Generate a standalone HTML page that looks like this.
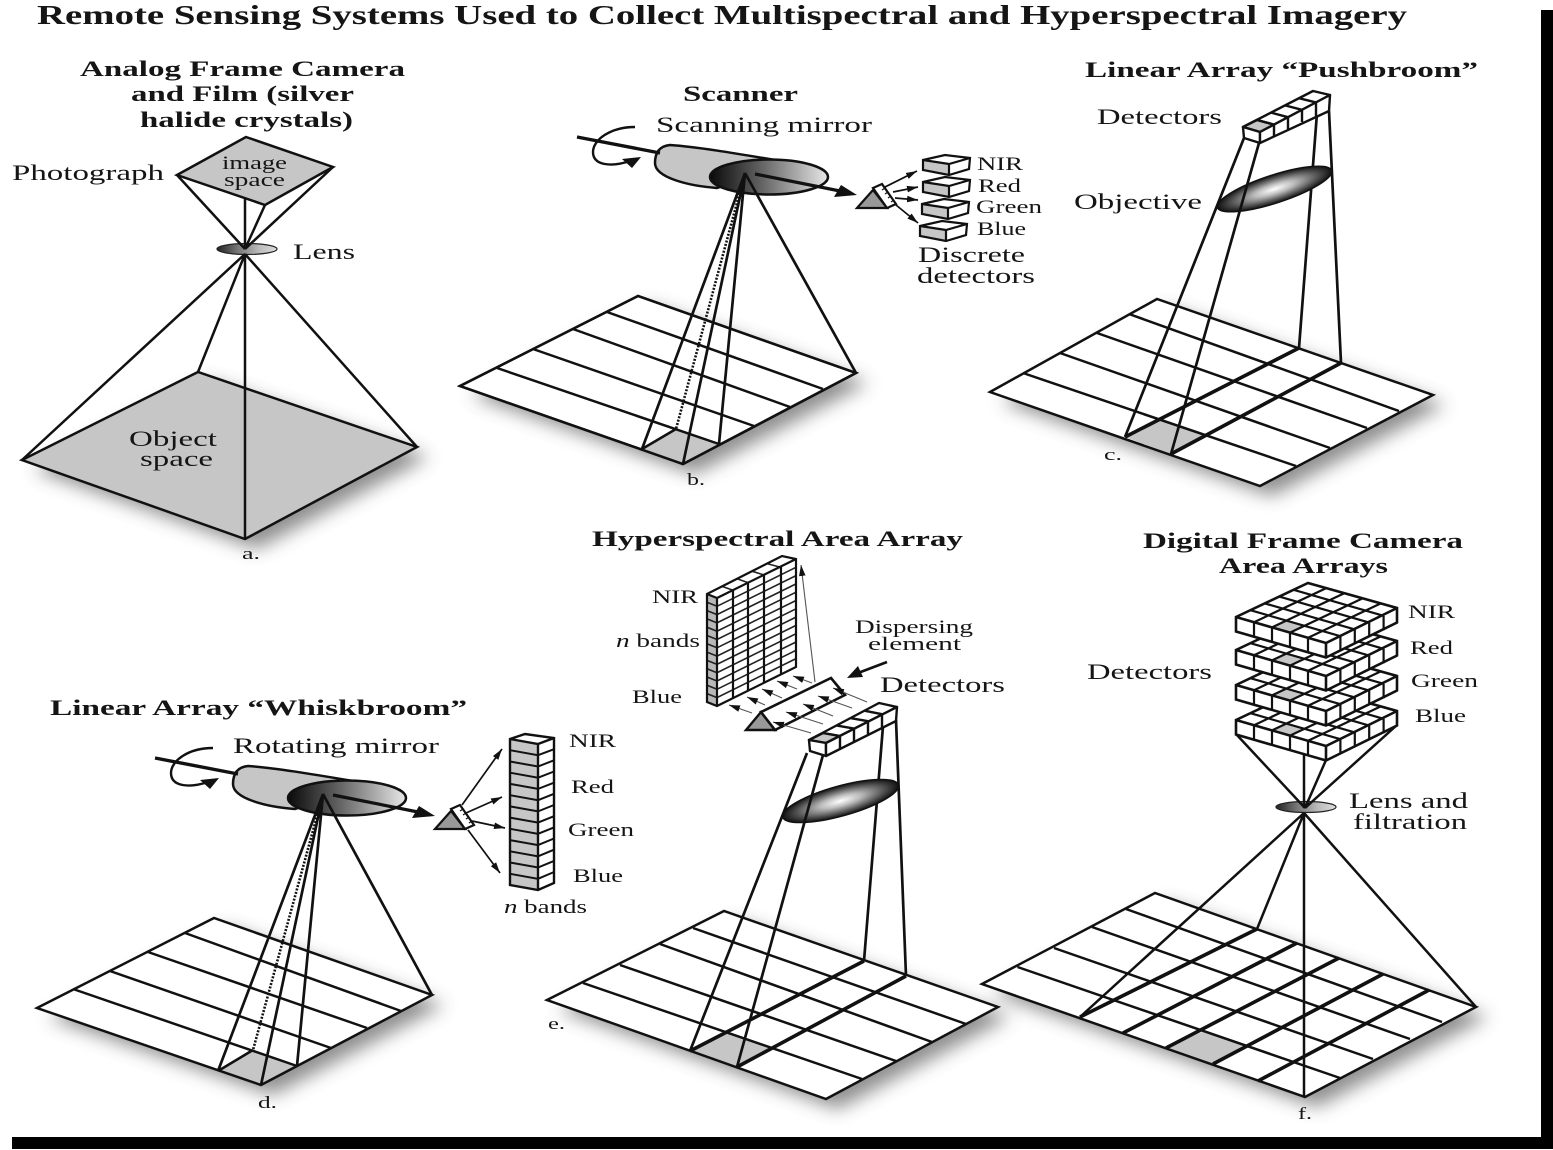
<!DOCTYPE html>
<html><head><meta charset="utf-8"><title>Remote Sensing Systems</title>
<style>
html,body{margin:0;padding:0;background:#fff}
svg{display:block}
text{font-family:"Liberation Serif",serif;fill:#151515}
.t{font-size:27px;font-weight:bold}
.h{font-size:22px;font-weight:bold}
.l{font-size:22px}
.s{font-size:19px}
.x{font-size:17px}
.i{font-style:italic}
</style></head><body>
<svg width="1553" height="1150" viewBox="0 0 1553 1150" xmlns="http://www.w3.org/2000/svg">
<defs>
<filter id="b" x="-20%" y="-30%" width="140%" height="160%"><feGaussianBlur stdDeviation="9"/></filter>
<linearGradient id="dk"><stop offset="0" stop-color="#0a0a0a"/><stop offset=".45" stop-color="#666"/><stop offset="1" stop-color="#e8e8e8"/></linearGradient>
<linearGradient id="ln"><stop offset="0" stop-color="#222"/><stop offset=".35" stop-color="#777"/><stop offset=".7" stop-color="#bbb"/><stop offset="1" stop-color="#ddd"/></linearGradient>
<radialGradient id="rd"><stop offset="0" stop-color="#fff"/><stop offset=".35" stop-color="#bbb"/><stop offset="1" stop-color="#111"/></radialGradient>
<marker id="ah" viewBox="0 0 10 6" refX="10" refY="3" markerWidth="11" markerHeight="7" markerUnits="userSpaceOnUse" orient="auto"><path d="M0 0L10 3L0 6Z" fill="#111"/></marker>
<g id="mirror">
<path d="M670 145C700 147 745 155 793 163L717 188C690 186 655 178 655 163C655 152 660 146 670 145Z" fill="#c6c6c6" stroke="#111" stroke-width="2.5"/>
<ellipse cx="769" cy="177" rx="59" ry="17.5" fill="url(#dk)" stroke="#111" stroke-width="2.5"/>
<line x1="577" y1="137" x2="660" y2="153" stroke="#111" stroke-width="3.4"/>
<path d="M635 127C610 127 593 140 593 152C593 166 612 167 630 161" fill="none" stroke="#111" stroke-width="2.4"/>
<polygon points="641,157 622,159 632,168" fill="#111"/>
<line x1="755" y1="174" x2="840" y2="191" stroke="#111" stroke-width="3.2"/>
<polygon points="857,195 841,185 834,197" fill="#111"/>
<polygon points="857,208 873,190 887,208" fill="#999" stroke="#111" stroke-width="2.2"/>
<polygon points="873,188 882,184 896,204 887,208" fill="#fff" stroke="#111" stroke-width="2.2"/>
<path d="M885 188L882 190M888 192L885 194M891 196L888 198M894 200L891 202" stroke="#111" stroke-width="1.2"/>
</g>
<g id="box">
<polygon points="923,160 945,155 970,158 948,163" fill="#fff"/>
<polygon points="923,160 949,164 949,175 923,170" fill="#c6c6c6"/>
<polygon points="949,164 970,158 969,169 949,175" fill="#fff"/>
<path d="M923 160L945 155L970 158L969 169L949 175L923 170ZM923 160L949 164L970 158M949 164V175" fill="none" stroke="#111" stroke-width="2.2"/>
</g>
<g id="layer">
<polygon points="1236,617 1308,583 1397,608 1326,643" fill="#fff"/>
<polygon points="1272,627.4 1290,632.6 1304.4,625.8 1286.4,620.6" fill="#c6c6c6"/>
<polygon points="1236,617 1326,643 1326,657.5 1236,631.5" fill="#fff"/>
<polygon points="1326,643 1397,608 1397,622.5 1326,657.5" fill="#fff"/>
<path d="M1254 622.2L1326 588.2M1272 627.4L1344 593.4M1290 632.6L1362 598.6M1308 637.8L1380 603.8M1250.4 610.2L1340.4 636.2M1264.8 603.4L1354.8 629.4M1279.2 596.6L1369.2 622.6M1293.6 589.8L1383.6 615.8" stroke="#111" stroke-width="2.2" fill="none"/>
<path d="M1254 622.2V636.7M1272 627.4V641.9M1290 632.6V647.1M1308 637.8V652.3M1340.4 636.2V650.7M1354.8 629.4V643.9M1369.2 622.6V637.1M1383.6 615.8V630.3" stroke="#111" stroke-width="2.2" fill="none"/>
<path d="M1236 617L1308 583L1397 608V622.5L1326 657.5L1236 631.5ZM1236 617L1326 643L1397 608M1326 643V657.5" fill="none" stroke="#111" stroke-width="2.6"/>
</g>
</defs>

<rect width="1553" height="1150" fill="#fff"/>
<rect x="1541" y="10" width="12" height="1139" fill="#000"/>
<rect x="12" y="1137" width="1541" height="12" fill="#000"/>

<text class="t" x="37" y="24" textLength="1370" lengthAdjust="spacingAndGlyphs">Remote Sensing Systems Used to Collect Multispectral and Hyperspectral Imagery</text>

<!-- a -->
<polygon points="22,460 198,372 417,447 245,539" transform="translate(12,10)" fill="#444" opacity=".6" filter="url(#b)"/>
<polygon points="22,460 198,372 417,447 245,539" fill="#c6c6c6" stroke="#111" stroke-width="2.5"/>
<polygon points="246,137 333,167 265,205 177,175" fill="#c6c6c6" stroke="#111" stroke-width="2.5"/>
<ellipse cx="247" cy="249" rx="30" ry="5.5" fill="url(#ln)" stroke="#222" stroke-width="1.2"/>
<path d="M177 175L245 249M333 167L245 249M265 205L245 249M245 199V249" stroke="#111" stroke-width="2.5" fill="none"/>
<path d="M245 254L22 460M245 254L198 372M245 254L417 447M245 254V539" stroke="#111" stroke-width="2.5" fill="none"/>
<text class="h" x="80" y="76" textLength="325" lengthAdjust="spacingAndGlyphs">Analog Frame Camera</text>
<text class="h" x="131" y="101" textLength="223" lengthAdjust="spacingAndGlyphs">and Film (silver</text>
<text class="h" x="140" y="127" textLength="213" lengthAdjust="spacingAndGlyphs">halide crystals)</text>
<text class="l" x="12" y="180" textLength="152" lengthAdjust="spacingAndGlyphs">Photograph</text>
<text class="s" x="222" y="169" textLength="65" lengthAdjust="spacingAndGlyphs">image</text>
<text class="s" x="224" y="186" textLength="61" lengthAdjust="spacingAndGlyphs">space</text>
<text class="l" x="293" y="259" textLength="62" lengthAdjust="spacingAndGlyphs">Lens</text>
<text class="l" x="129" y="446" textLength="88" lengthAdjust="spacingAndGlyphs">Object</text>
<text class="l" x="140" y="466" textLength="73" lengthAdjust="spacingAndGlyphs">space</text>
<text class="x" x="242" y="559" textLength="18" lengthAdjust="spacingAndGlyphs">a.</text>

<!-- b -->
<polygon points="460,386 638,296 856,373 683,464" transform="translate(12,10)" fill="#444" opacity=".6" filter="url(#b)"/>
<polygon points="460,386 638,296 856,373 683,464" fill="#fff" stroke="#111" stroke-width="2.5"/>
<polygon points="642,449 676,429 719,444 683,464" fill="#c6c6c6"/>
<path d="M607 312L823 389M573 329L790 407M533 349L754 426M497 368L719 444M642 449L676 429" stroke="#111" stroke-width="2.5"/>
<polygon points="460,386 638,296 856,373 683,464" fill="none" stroke="#111" stroke-width="2.5"/>
<use href="#mirror"/>
<path d="M745 173L642 449M745 173L683 464M745 173L719 444M745 173L856 373" stroke="#111" stroke-width="2.7" fill="none"/>
<line x1="745" y1="173" x2="676" y2="429" stroke="#111" stroke-width="2.6" stroke-dasharray="2 1.5"/>
<g stroke="#111" stroke-width="1.7">
<line x1="885" y1="187" x2="917" y2="171" marker-end="url(#ah)"/>
<line x1="893" y1="192" x2="918" y2="187" marker-end="url(#ah)"/>
<line x1="895" y1="198" x2="918" y2="200" marker-end="url(#ah)"/>
<line x1="896" y1="205" x2="918" y2="223" marker-end="url(#ah)"/>
</g>
<use href="#box"/>
<use href="#box" transform="translate(0,22)"/>
<use href="#box" transform="translate(-1,44)"/>
<use href="#box" transform="translate(-3,66)"/>
<text class="h" x="683" y="101" textLength="115" lengthAdjust="spacingAndGlyphs">Scanner</text>
<text class="l" x="656" y="132" textLength="216" lengthAdjust="spacingAndGlyphs">Scanning mirror</text>
<text class="s" x="977" y="170" textLength="46" lengthAdjust="spacingAndGlyphs">NIR</text>
<text class="s" x="978" y="192" textLength="43" lengthAdjust="spacingAndGlyphs">Red</text>
<text class="s" x="976" y="213" textLength="66" lengthAdjust="spacingAndGlyphs">Green</text>
<text class="s" x="977" y="235" textLength="49" lengthAdjust="spacingAndGlyphs">Blue</text>
<text class="l" x="918" y="262" textLength="107" lengthAdjust="spacingAndGlyphs">Discrete</text>
<text class="l" x="917" y="283" textLength="118" lengthAdjust="spacingAndGlyphs">detectors</text>
<text class="x" x="687" y="485" textLength="18" lengthAdjust="spacingAndGlyphs">b.</text>

<!-- c -->
<polygon points="990,392 1157,299 1433,395 1260,486" transform="translate(12,10)" fill="#444" opacity=".6" filter="url(#b)"/>
<polygon points="990,392 1157,299 1433,395 1260,486" fill="#fff"/>
<polygon points="1125,437 1160,419 1204,435 1171,454" fill="#c6c6c6"/>
<path d="M1129 314L1399 411M1097 333L1367 428M1060 353L1330 448M1023 373L1296 466" stroke="#111" stroke-width="2.5"/>
<polygon points="990,392 1157,299 1433,395 1260,486" fill="none" stroke="#111" stroke-width="2.5"/>
<path d="M1125 437L1299 348M1171 454L1341 363" stroke="#111" stroke-width="3.6"/>
<path d="M1317 113L1299 348M1329 111L1341 363" stroke="#111" stroke-width="2.7" fill="none"/>
<g transform="rotate(-18 1274.5 189)"><ellipse cx="1274.5" cy="189" rx="60" ry="14" fill="url(#rd)" stroke="#111" stroke-width="1.4"/></g>
<path d="M1244 138L1125 437M1259 143L1171 454" stroke="#111" stroke-width="2.7" fill="none"/>
<g stroke="#111" stroke-width="2.4" stroke-linejoin="round">
<polygon points="1243,127 1313,91 1330,95 1260,132" fill="#fff"/>
<polygon points="1243,127 1257,120 1274,124.6 1260,132" fill="#c6c6c6"/>
<polygon points="1243,127 1260,132 1260,143 1244,138" fill="#fff"/>
<polygon points="1260,132 1330,95 1329,111 1260,143" fill="#fff"/>
<path d="M1257 120L1274 124.6V136M1271 112.6L1288 117.2V129M1285 105.4L1302 109.8V122M1299 98.2L1316 102.4V117" fill="none"/>
</g>
<text class="h" x="1085" y="77" textLength="393" lengthAdjust="spacingAndGlyphs">Linear Array “Pushbroom”</text>
<text class="l" x="1097" y="124" textLength="125" lengthAdjust="spacingAndGlyphs">Detectors</text>
<text class="l" x="1074" y="209" textLength="128" lengthAdjust="spacingAndGlyphs">Objective</text>
<text class="x" x="1104" y="460" textLength="18" lengthAdjust="spacingAndGlyphs">c.</text>

<!-- d -->
<polygon points="37,1008 214,918 432,995 261,1085" transform="translate(12,10)" fill="#444" opacity=".6" filter="url(#b)"/>
<polygon points="37,1008 214,918 432,995 261,1085" fill="#fff"/>
<polygon points="218,1071 253,1050 297,1066 261,1085" fill="#c6c6c6"/>
<path d="M185 933L401 1011M148 952L367 1028M110 971L331 1048M73 989L297 1066M218 1071L253 1050" stroke="#111" stroke-width="2.5"/>
<polygon points="37,1008 214,918 432,995 261,1085" fill="none" stroke="#111" stroke-width="2.5"/>
<use href="#mirror" transform="translate(-422,621)"/>
<path d="M323 794L218 1071M323 794L261 1085M323 794L297 1066M323 794L432 995" stroke="#111" stroke-width="2.7" fill="none"/>
<line x1="323" y1="794" x2="253" y2="1050" stroke="#111" stroke-width="2.6" stroke-dasharray="2 1.5"/>
<g stroke="#111" stroke-width="1.7">
<line x1="462" y1="805" x2="502" y2="749" marker-end="url(#ah)"/>
<line x1="466" y1="813" x2="502" y2="797" marker-end="url(#ah)"/>
<line x1="472" y1="821" x2="505" y2="828" marker-end="url(#ah)"/>
<line x1="468" y1="830" x2="500" y2="873" marker-end="url(#ah)"/>
</g>
<polygon points="510,739 538,744 538,890 510,885" fill="#c6c6c6"/>
<polygon points="538,744 554,738 554,883 538,890" fill="#fff"/>
<polygon points="510,739 525,734 554,738 538,744" fill="#fff"/>
<path d="M510 750.2L538 755.2L554 749.2M510 761.5L538 766.5L554 760.3M510 772.7L538 777.7L554 771.5M510 783.9L538 788.9L554 782.7M510 795.2L538 800.2L554 793.8M510 806.4L538 811.4L554 805M510 817.6L538 822.6L554 816.2M510 828.8L538 833.8L554 827.4M510 840.1L538 845.1L554 838.5M510 851.3L538 856.3L554 849.7M510 862.5L538 867.5L554 860.9M510 873.8L538 878.8L554 872" stroke="#111" stroke-width="2" fill="none"/>
<path d="M510 739L525 734L554 738V883L538 890L510 885ZM510 739L538 744L554 738M538 744V890" stroke="#111" stroke-width="2.4" fill="none"/>
<text class="h" x="50" y="715" textLength="417" lengthAdjust="spacingAndGlyphs">Linear Array “Whiskbroom”</text>
<text class="l" x="233" y="753" textLength="206" lengthAdjust="spacingAndGlyphs">Rotating mirror</text>
<text class="s" x="569" y="747" textLength="47" lengthAdjust="spacingAndGlyphs">NIR</text>
<text class="s" x="571" y="793" textLength="43" lengthAdjust="spacingAndGlyphs">Red</text>
<text class="s" x="568" y="836" textLength="66" lengthAdjust="spacingAndGlyphs">Green</text>
<text class="s" x="573" y="882" textLength="50" lengthAdjust="spacingAndGlyphs">Blue</text>
<text class="s" x="504" y="913" textLength="83" lengthAdjust="spacingAndGlyphs"><tspan class="i">n</tspan> bands</text>
<text class="x" x="258" y="1108" textLength="19" lengthAdjust="spacingAndGlyphs">d.</text>

<!-- e -->
<polygon points="547,1000 724,911 998,1007 826,1099" transform="translate(12,10)" fill="#444" opacity=".6" filter="url(#b)"/>
<polygon points="547,1000 724,911 998,1007 826,1099" fill="#fff"/>
<polygon points="690,1051 727,1033 772,1048 737,1067" fill="#c6c6c6"/>
<path d="M693 928L966 1024M660 944L932 1042M620 965L896 1061M583 983L862 1079" stroke="#111" stroke-width="2.5"/>
<polygon points="547,1000 724,911 998,1007 826,1099" fill="none" stroke="#111" stroke-width="2.5"/>
<path d="M690 1051L864 961M737 1067L906 976" stroke="#111" stroke-width="3.6"/>
<path d="M883 726L864 961M896 720L906 976" stroke="#111" stroke-width="2.7" fill="none"/>
<g transform="rotate(-15.5 840.5 801)"><ellipse cx="840.5" cy="801" rx="60" ry="15" fill="url(#rd)" stroke="#111" stroke-width="1.4"/></g>
<path d="M807 753L690 1051M823 755L737 1067" stroke="#111" stroke-width="2.7" fill="none"/>
<g stroke="#111" stroke-width="2.4" stroke-linejoin="round">
<polygon points="809,740 879,703 897,707 826,743" fill="#fff"/>
<polygon points="809,740 823,733 840,736 826,743" fill="#c6c6c6"/>
<polygon points="809,740 826,743 826,756 810,751" fill="#fff"/>
<polygon points="826,743 897,707 896,721 826,756" fill="#fff"/>
<path d="M823 733L840 736V749M837 725.6L854 728.6V742M851 718.2L868 721.2V735M865 710.8L882 714.2V728" fill="none"/>
</g>
<!-- hyperspectral cube -->
<polygon points="707,594 717,598 717,706 707,702" fill="#b8b8b8"/>
<polygon points="717,598 796,559 796,667 717,706" fill="#fff"/>
<polygon points="707,594 782,556 796,559 717,598" fill="#fff"/>
<g fill="none" stroke="#222" stroke-width="1.6">
<path d="M707 602.3L717 606.3L796 567.3M707 610.6L717 614.6L796 575.6M707 618.9L717 622.9L796 583.9M707 627.2L717 631.2L796 592.2M707 635.5L717 639.5L796 600.5M707 643.8L717 647.8L796 608.8M707 652.1L717 656.1L796 617.1M707 660.4L717 664.4L796 625.4M707 668.7L717 672.7L796 633.7M707 677L717 681L796 642M707 685.3L717 689.3L796 650.3M707 693.6L717 697.6L796 658.6"/>
<path d="M722 586.4L733 590.2M737 578.8L748 582.6M752 571.2L764 575M767 563.6L781 567.4" />
</g>
<path d="M733 590V698M748 583V691M764 575V683M781 567V675" stroke="#111" stroke-width="2.2" fill="none"/>
<path d="M707 594L782 556L796 559V667L717 706L707 702ZM707 594L717 598L796 559M717 598V706" stroke="#111" stroke-width="2.2" fill="none"/>
<polygon points="746,730 761,712 775,730" fill="#999" stroke="#111" stroke-width="2.4"/>
<polygon points="761,712 831,678 845,695 775,730" fill="#fff" stroke="#111" stroke-width="2.6"/>
<g stroke="#555" stroke-width="1.1">
<line x1="811" y1="733" x2="773" y2="722" marker-end="url(#ah)"/>
<line x1="823" y1="724" x2="786" y2="712" marker-end="url(#ah)"/>
<line x1="833" y1="716" x2="803" y2="704" marker-end="url(#ah)"/>
<line x1="852" y1="708" x2="818" y2="696" marker-end="url(#ah)"/>
<line x1="867" y1="702" x2="833" y2="688" marker-end="url(#ah)"/>
<line x1="752" y1="713" x2="729" y2="705" marker-end="url(#ah)"/>
<line x1="765" y1="705" x2="747" y2="697" marker-end="url(#ah)"/>
<line x1="782" y1="698" x2="762" y2="689" marker-end="url(#ah)"/>
<line x1="797" y1="689" x2="777" y2="681" marker-end="url(#ah)"/>
<line x1="812" y1="683" x2="793" y2="676" marker-end="url(#ah)"/>
<line x1="815" y1="682" x2="801" y2="565" marker-end="url(#ah)"/>
</g>
<line x1="887" y1="662" x2="858" y2="673" stroke="#111" stroke-width="2.6"/>
<polygon points="847,678 858,666 863,677" fill="#111"/>
<text class="h" x="592" y="546" textLength="371" lengthAdjust="spacingAndGlyphs">Hyperspectral Area Array</text>
<text class="s" x="652" y="603" textLength="46" lengthAdjust="spacingAndGlyphs">NIR</text>
<text class="s" x="616" y="647" textLength="84" lengthAdjust="spacingAndGlyphs"><tspan class="i">n</tspan> bands</text>
<text class="s" x="632" y="703" textLength="50" lengthAdjust="spacingAndGlyphs">Blue</text>
<text class="s" x="855" y="633" textLength="118" lengthAdjust="spacingAndGlyphs">Dispersing</text>
<text class="s" x="868" y="650" textLength="93" lengthAdjust="spacingAndGlyphs">element</text>
<text class="l" x="880" y="692" textLength="125" lengthAdjust="spacingAndGlyphs">Detectors</text>
<text class="x" x="548" y="1029" textLength="17" lengthAdjust="spacingAndGlyphs">e.</text>

<!-- f -->
<polygon points="982,984 1155,893 1476,1007 1305,1097" transform="translate(12,10)" fill="#444" opacity=".6" filter="url(#b)"/>
<polygon points="982,984 1155,893 1476,1007 1305,1097" fill="#fff"/>
<polygon points="1166,1048 1202,1032 1244,1045 1213,1064" fill="#c6c6c6"/>
<path d="M1126 909L1442 1022M1092 927L1410 1039M1054 948L1373 1059M1017.5 967L1340 1078" stroke="#111" stroke-width="2.5"/>
<polygon points="982,984 1155,893 1476,1007 1305,1097" fill="none" stroke="#111" stroke-width="2.5"/>
<path d="M1080 1017L1257 929M1123 1033L1297 943M1166 1048L1339 958M1213 1064L1383 974M1258 1081L1429 990" stroke="#111" stroke-width="3.6"/>
<ellipse cx="1306" cy="807" rx="30" ry="5.5" fill="url(#ln)" stroke="#222" stroke-width="1.2"/>
<path d="M1236 734L1305 808M1397 725L1305 808M1326 760L1305 808M1304 755V808" stroke="#111" stroke-width="2.5" fill="none"/>
<use href="#layer" transform="translate(0,103)"/>
<use href="#layer" transform="translate(0,68)"/>
<use href="#layer" transform="translate(0,33)"/>
<use href="#layer"/>
<path d="M1304 813L1080 1017M1304 813L1257 929M1304 813V1097M1304 813L1476 1007" stroke="#111" stroke-width="2.5" fill="none"/>
<text class="h" x="1143" y="548" textLength="320" lengthAdjust="spacingAndGlyphs">Digital Frame Camera</text>
<text class="h" x="1219" y="573" textLength="169" lengthAdjust="spacingAndGlyphs">Area Arrays</text>
<text class="s" x="1408" y="618" textLength="47" lengthAdjust="spacingAndGlyphs">NIR</text>
<text class="s" x="1410" y="654" textLength="43" lengthAdjust="spacingAndGlyphs">Red</text>
<text class="s" x="1411" y="687" textLength="67" lengthAdjust="spacingAndGlyphs">Green</text>
<text class="s" x="1415" y="722" textLength="51" lengthAdjust="spacingAndGlyphs">Blue</text>
<text class="l" x="1087" y="679" textLength="125" lengthAdjust="spacingAndGlyphs">Detectors</text>
<text class="l" x="1349" y="808" textLength="119" lengthAdjust="spacingAndGlyphs">Lens and</text>
<text class="l" x="1353" y="829" textLength="114" lengthAdjust="spacingAndGlyphs">filtration</text>
<text class="x" x="1298" y="1119" textLength="14" lengthAdjust="spacingAndGlyphs">f.</text>
</svg>
</body></html>
